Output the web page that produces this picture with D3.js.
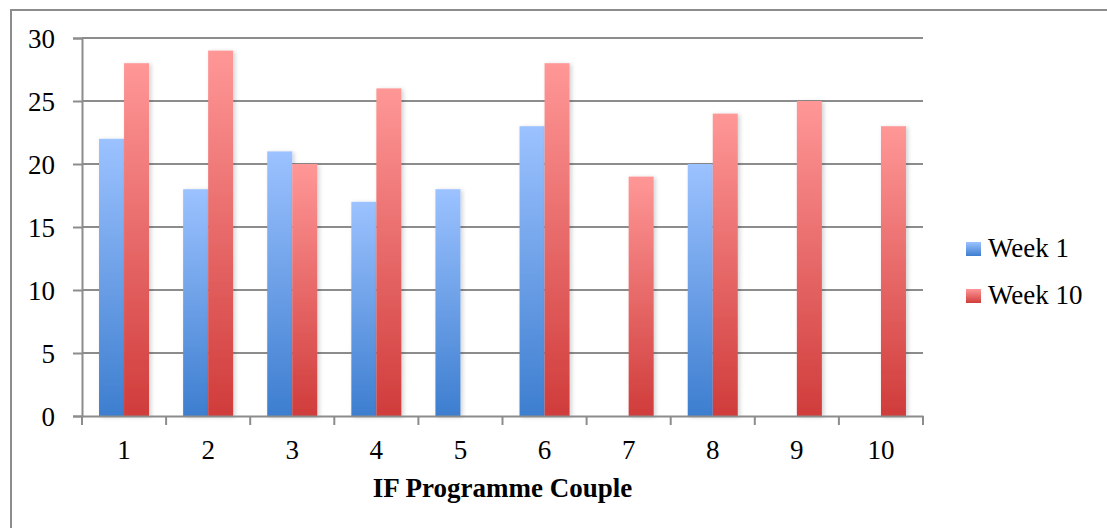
<!DOCTYPE html>
<html>
<head>
<meta charset="utf-8">
<script src="https://cdn.jsdelivr.net/npm/d3@7"></script>
<style>
  html, body { margin: 0; padding: 0; background: #fff; }
  svg { display: block; }
  text { font-family: "Liberation Serif", "Times New Roman", serif; fill: #000; }
</style>
</head>
<body>
<svg id="chart" width="1107" height="528"></svg>
<script>
// Scores per couple in the IF programme
const couples = ["1", "2", "3", "4", "5", "6", "7", "8", "9", "10"];
const seriesNames = ["Week 1", "Week 10"];
const week1 = [22, 18, 21, 17, 18, 23, 0, 20, 0, 0];
const week10 = [28, 29, 20, 26, 0, 28, 19, 24, 25, 23];
const yTicks = [0, 5, 10, 15, 20, 25, 30];
const xTitle = "IF Programme Couple";

const svg = d3.select("#chart");
const W = 1107, H = 528;
const plot = { left: 82, right: 923, top: 38, bottom: 416 };
const FONT = "'Liberation Serif', 'Times New Roman', serif";

// Outer frame
svg.append("path")
  .attr("d", `M11,${H + 2} L11,10 L${W + 2},10`)
  .attr("fill", "none").attr("stroke", "#8c8c8c").attr("stroke-width", 2);

const defs = svg.append("defs");
const gradients = [
  { id: "gBlue", top: "#9cc2ff", bottom: "#3d7ecf" },
  { id: "gRed", top: "#ff9797", bottom: "#d03c3b" }
];
gradients.forEach(g => {
  const lg = defs.append("linearGradient").attr("id", g.id)
    .attr("x1", 0).attr("y1", 0).attr("x2", 0).attr("y2", 1);
  lg.append("stop").attr("offset", "0%").attr("stop-color", g.top);
  lg.append("stop").attr("offset", "100%").attr("stop-color", g.bottom);
});
const shadow = defs.append("filter").attr("id", "shadow")
  .attr("x", "-20%").attr("y", "-5%").attr("width", "150%").attr("height", "115%");
shadow.append("feDropShadow").attr("dx", 2).attr("dy", 1).attr("stdDeviation", 2)
  .attr("flood-color", "#000").attr("flood-opacity", 0.18);

const x = d3.scaleBand().domain(couples).range([plot.left, plot.right]).padding(0);
const y = d3.scaleLinear().domain([0, 30]).range([plot.bottom, plot.top]);
const groupWidth = x.bandwidth() * 0.595;
const xs = d3.scaleBand().domain(seriesNames).range([0, groupWidth]);

// Horizontal gridlines
svg.append("g").selectAll("line").data(yTicks.filter(t => t > 0)).join("line")
  .attr("x1", plot.left).attr("x2", plot.right)
  .attr("y1", d => y(d)).attr("y2", d => y(d))
  .attr("stroke", "#8c8c8c").attr("stroke-width", 2);

// Bars
const rows = couples.map((c, i) => ({ c, vals: [week1[i], week10[i]] }));
const grp = svg.append("g").selectAll("g").data(rows).join("g")
  .attr("transform", d => `translate(${x(d.c) + (x.bandwidth() - groupWidth) / 2},0)`);
grp.selectAll("rect")
  .data(d => d.vals.map((v, k) => ({ name: seriesNames[k], v, k })).filter(o => o.v > 0))
  .join("rect")
  .attr("x", o => xs(o.name))
  .attr("width", xs.bandwidth())
  .attr("y", o => y(o.v))
  .attr("height", o => y(0) - y(o.v))
  .attr("fill", o => `url(#${gradients[o.k].id})`)
  .attr("filter", "url(#shadow)");

// Y axis
const yAxis = svg.append("g").attr("transform", `translate(${plot.left},0)`)
  .call(d3.axisLeft(y).tickValues(yTicks).tickSize(9).tickPadding(18).tickFormat(d3.format("d")));
yAxis.attr("font-family", FONT).attr("font-size", 27);
yAxis.select(".domain").attr("stroke", "#8c8c8c").attr("stroke-width", 2);
yAxis.selectAll(".tick line").attr("stroke", "#8c8c8c").attr("stroke-width", 2);
yAxis.selectAll(".tick text").attr("dy", "0.36em").attr("fill", "#000");

// X axis
const xAxis = svg.append("g").attr("transform", `translate(0,${plot.bottom})`)
  .call(d3.axisBottom(x).tickSize(0));
xAxis.attr("font-family", FONT).attr("font-size", 27);
xAxis.select(".domain").attr("stroke", "#8c8c8c").attr("stroke-width", 2);
xAxis.selectAll(".tick text").attr("y", 43).attr("dy", 0).attr("fill", "#000");
svg.append("g").selectAll("line").data(couples.concat(["end"])).join("line")
  .attr("x1", d => d === "end" ? plot.right : x(d))
  .attr("x2", d => d === "end" ? plot.right : x(d))
  .attr("y1", plot.bottom).attr("y2", plot.bottom + 9)
  .attr("stroke", "#8c8c8c").attr("stroke-width", 2);

// X axis title
svg.append("text")
  .attr("x", (plot.left + plot.right) / 2).attr("y", 497)
  .attr("text-anchor", "middle")
  .style("font-size", "27px").style("font-weight", "bold")
  .text(xTitle);

// Legend
const legend = svg.append("g").selectAll("g").data(seriesNames).join("g")
  .attr("transform", (d, i) => `translate(966,${242 + i * 47})`);
legend.append("rect").attr("width", 15).attr("height", 14)
  .attr("fill", (d, i) => `url(#${gradients[i].id})`);
legend.append("text").attr("x", 22).attr("y", 15)
  .style("font-size", "27px").text(d => d);
</script>
</body>
</html>
